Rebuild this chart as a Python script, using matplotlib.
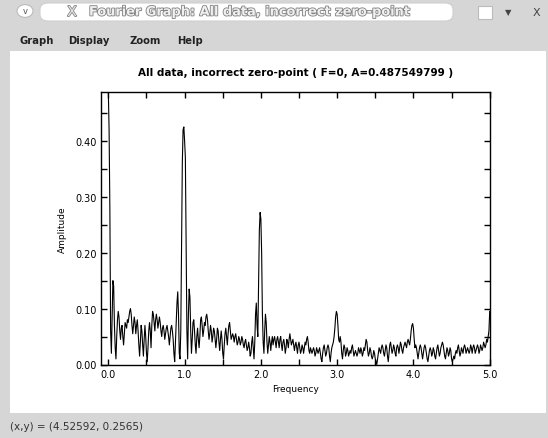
import numpy as np
import matplotlib
matplotlib.use('Agg')
import matplotlib.pyplot as plt
from matplotlib.patches import Rectangle, FancyBboxPatch, Circle
from matplotlib.ticker import MultipleLocator, FormatStrFormatter
import matplotlib.patheffects as pe

# Amplitude spectrum, sampled every 0.01 in frequency (rows of 0.1)
freq_step = 0.01
amplitude = [
    .4875, .42, .28, .06, .02, .09, .15, .14, .07, .03,
    .01, .05, .08, .095, .085, .06, .045, .065, .07, .05,
    .035, .055, .075, .07, .065, .08, .075, .085, .095, .10,
    .09, .07, .055, .07, .085, .075, .055, .07, .08, .06,
    .035, .015, .04, .07, .06, .035, .015, .045, .07, .05,
    .02, .005, .03, .06, .075, .06, .03, .07, .095, .09,
    .075, .06, .08, .09, .08, .065, .075, .085, .075, .06,
    .05, .065, .07, .06, .045, .055, .065, .07, .06, .05,
    .035, .05, .065, .07, .06, .045, .02, .005, .04, .08,
    .11, .13, .09, .02, .01, .06, .20, .36, .42, .425,
    .40, .37, .22, .06, .01, .09, .135, .12, .06, .02,
    .045, .075, .08, .06, .035, .02, .05, .065, .045, .03,
    .05, .08, .085, .07, .05, .06, .075, .07, .085, .09,
    .08, .06, .045, .055, .07, .06, .04, .05, .065, .06,
    .045, .03, .045, .065, .06, .04, .025, .045, .06, .045,
    .02, .01, .035, .055, .065, .05, .035, .055, .07, .075,
    .06, .045, .05, .055, .05, .04, .05, .055, .045, .035,
    .04, .05, .045, .035, .04, .05, .045, .035, .03, .04,
    .045, .035, .025, .03, .04, .03, .015, .02, .04, .05,
    .03, .01, .04, .09, .11, .07, .05, .14, .24, .272,
    .26, .20, .09, .04, .02, .06, .09, .075, .04, .02,
    .035, .05, .04, .025, .04, .05, .035, .045, .05, .04,
    .03, .045, .05, .04, .03, .045, .05, .035, .025, .04,
    .045, .035, .02, .03, .045, .04, .03, .045, .055, .045,
    .035, .04, .045, .035, .025, .035, .04, .03, .02, .035,
    .04, .03, .02, .025, .035, .03, .02, .03, .04, .035,
    .045, .05, .04, .025, .02, .03, .025, .02, .025, .03,
    .025, .015, .02, .03, .025, .02, .025, .03, .02, .01,
    .005, .02, .03, .035, .025, .015, .02, .03, .035, .03,
    .015, .005, .02, .03, .035, .04, .05, .065, .085, .095,
    .09, .07, .045, .04, .05, .04, .02, .01, .025, .035,
    .03, .015, .02, .03, .025, .015, .02, .025, .02, .03,
    .035, .025, .015, .02, .025, .02, .015, .02, .03, .025,
    .02, .03, .025, .015, .02, .03, .025, .035, .045, .04,
    .025, .015, .02, .03, .025, .015, .01, .015, .025, .02,
    .01, .005, .0, .01, .02, .03, .025, .02, .03, .035,
    .03, .02, .015, .025, .035, .03, .015, .005, .02, .035,
    .04, .03, .02, .025, .035, .03, .02, .015, .03, .035,
    .03, .02, .03, .04, .035, .025, .02, .03, .035, .04,
    .035, .03, .04, .045, .04, .035, .045, .06, .07, .073,
    .065, .045, .03, .035, .03, .02, .01, .02, .03, .035,
    .03, .02, .01, .02, .03, .035, .03, .02, .01, .005,
    .015, .025, .03, .025, .015, .02, .03, .025, .015, .01,
    .02, .03, .035, .025, .015, .02, .03, .035, .04, .035,
    .025, .015, .01, .02, .03, .025, .015, .02, .03, .025,
    .01, .005, .01, .015, .01, .02, .025, .02, .03, .035,
    .025, .015, .02, .03, .025, .02, .03, .035, .03, .02,
    .025, .03, .025, .02, .025, .035, .03, .02, .03, .035,
    .03, .02, .025, .03, .035, .03, .02, .025, .035, .03,
    .025, .03, .04, .035, .03, .035, .045, .04, .05, .06,
    .095,
]
freq = np.arange(len(amplitude)) * freq_step

plot_title = 'All data, incorrect zero-point ( F=0, A=0.487549799 )'
window_title = 'Fourier Graph: All data, incorrect zero-point'
menu_items = ['Graph', 'Display', 'Zoom', 'Help']
status_text = '(x,y) = (4.52592, 0.2565)'

W, H = 548, 439
fig = plt.figure(figsize=(W / 100, H / 100), dpi=100)
fig.patch.set_facecolor('#d6d6d6')

def px(x, y):
    return x / W, 1 - y / H

# White client area
fig.patches.append(Rectangle((10 / W, 1 - 414 / H), 536 / W, 362 / H,
                             transform=fig.transFigure, facecolor='white',
                             edgecolor='none', zorder=-5))
# Title bar pill
fig.patches.append(FancyBboxPatch((40 / W, 1 - 22 / H), 413 / W, 18 / H,
                                  boxstyle='round,pad=0,rounding_size=0.015',
                                  transform=fig.transFigure, facecolor='white',
                                  edgecolor='#cfcfcf', lw=0.8, zorder=-5))
fig.patches.append(Circle(px(25, 12), 8 / W, transform=fig.transFigure,
                          facecolor='white', edgecolor='#bbbbbb', lw=0.8))
fig.text(*px(25, 12), 'v', ha='center', va='center', fontsize=6, color='#555555')
fig.text(*px(72, 13), 'X', ha='center', va='center', fontsize=10, color='#e6e6e6',
         path_effects=[pe.withStroke(linewidth=1.2, foreground='#888888')])
fig.text(*px(89, 13), window_title, ha='left', va='center', fontsize=9.3,
         color='#f0f0f0', fontweight='bold',
         path_effects=[pe.withStroke(linewidth=1.2, foreground='#808080')])
fig.patches.append(Rectangle((478 / W, 1 - 20 / H), 14 / W, 13 / H,
                             transform=fig.transFigure, facecolor='white',
                             edgecolor='#bbbbbb', lw=0.8))
fig.text(*px(508, 13), '\u25bc', ha='center', va='center', fontsize=6, color='#444444')
fig.text(*px(536, 13), 'X', ha='center', va='center', fontsize=8, color='#444444')

# Menu bar
for name, x in zip(menu_items, [20, 68, 129, 177]):
    fig.text(*px(x, 41), name, ha='left', va='center', fontsize=7.2,
             fontweight='bold', color='#222222')

# Status bar
fig.text(*px(10, 427), status_text, ha='left', va='center', fontsize=7.5,
         color='#333333')

# Plot area
ax = fig.add_axes([100.7 / W, 1 - 365.5 / H, 389 / W, 272.5 / H])
ax.set_zorder(2)
ax.plot(freq, amplitude, color='black', lw=0.8)
ax.set_xlim(-0.1, 5.0)
ax.set_ylim(0, 0.4875)

ax.xaxis.set_major_locator(MultipleLocator(1.0))
ax.xaxis.set_minor_locator(MultipleLocator(0.5))
ax.yaxis.set_major_locator(MultipleLocator(0.1))
ax.yaxis.set_minor_locator(MultipleLocator(0.05))
ax.xaxis.set_major_formatter(FormatStrFormatter('%.1f'))
ax.yaxis.set_major_formatter(FormatStrFormatter('%.2f'))
ax.tick_params(which='both', direction='in', top=True, right=True,
               length=4.5, width=1, labelsize=7, pad=3)
for s in ax.spines.values():
    s.set_linewidth(1)

ax.set_xlabel('Frequency', fontsize=6.5, labelpad=4)
ax.set_ylabel('Amplitude', fontsize=6.5, labelpad=6)
ax.set_title(plot_title, fontsize=7.5, fontweight='bold', pad=12)

fig.savefig('out.png', dpi=100)
